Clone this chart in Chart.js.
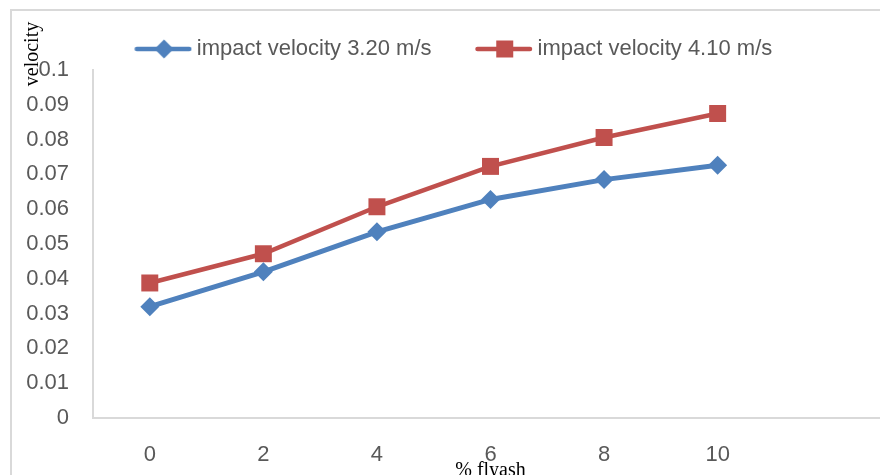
<!DOCTYPE html>
<html>
<head>
<meta charset="utf-8">
<script src="https://cdn.jsdelivr.net/npm/chart.js@4.4.1/dist/chart.umd.min.js"></script>
<style>
  html, body { margin:0; padding:0; width:880px; height:475px; overflow:hidden; background:#fff; }
  #frame { position:absolute; left:10px; top:9px; width:900px; height:480px; border-left:2px solid #d9d9d9; border-top:2px solid #d9d9d9; }
  #wrap { position:absolute; left:0; top:0; width:900px; height:475px; }
</style>
</head>
<body>
<div id="frame"></div>
<div id="wrap"><canvas id="c"></canvas></div>
<script>
const categories = ['0', '2', '4', '6', '8', '10', ''];
const seriesNames = ['impact velocity 3.20 m/s', 'impact velocity 4.10 m/s'];
const velocity320 = [0.032, 0.042, 0.0535, 0.0628, 0.0685, 0.0726];
const velocity410 = [0.0388, 0.0472, 0.0607, 0.0723, 0.0806, 0.0875];
const yTickLabels = ['0', '0.01', '0.02', '0.03', '0.04', '0.05', '0.06', '0.07', '0.08', '0.09', '0.1'];
const xTitle = '% flyash';
const yTitle = 'velocity';

const BLUE = '#4f81bd';
const RED = '#c0504d';
const TXT = '#595959';

function legendIcon(color, style) {
  const W = 78, H = 24;
  const cv = document.createElement('canvas');
  cv.width = W; cv.height = H;
  const g = cv.getContext('2d');
  g.strokeStyle = color; g.fillStyle = color; g.lineWidth = 4.5; g.lineCap = 'round';
  const x0 = 22.5, x1 = 77;
  const cy = H / 2;
  g.beginPath(); g.moveTo(x0, cy); g.lineTo(x1 - 2, cy); g.stroke();
  const cx = (x0 + x1) / 2;
  g.beginPath();
  if (style === 'diamond') {
    const r = 9.5;
    g.moveTo(cx - r, cy); g.lineTo(cx, cy - r); g.lineTo(cx + r, cy); g.lineTo(cx, cy + r);
  } else {
    const s = 8.5;
    g.rect(cx - s, cy - s, 2 * s, 2 * s);
  }
  g.closePath(); g.fill();
  return cv;
}
const icons = [legendIcon(BLUE, 'diamond'), legendIcon(RED, 'square')];

const titlesPlugin = {
  id: 'titles',
  afterDraw(chart) {
    const ctx = chart.ctx;
    const a = chart.chartArea;
    ctx.save();
    ctx.fillStyle = '#000';
    ctx.font = '20px "Liberation Serif", "Times New Roman", serif';
    ctx.textAlign = 'center';
    ctx.textBaseline = 'alphabetic';
    ctx.fillText(xTitle, (a.left + a.right) / 2, chart.height + 1);
    ctx.translate(a.left - 60, a.top - 16);
    ctx.rotate(-Math.PI / 2);
    ctx.textBaseline = 'middle';
    ctx.fillText(yTitle, 0, 0);
    ctx.restore();
  }
};

new Chart(document.getElementById('c'), {
  type: 'line',
  data: {
    labels: categories,
    datasets: [
      { label: seriesNames[0], data: velocity320, borderColor: BLUE, backgroundColor: BLUE,
        borderWidth: 5, pointStyle: 'rectRot', pointRadius: 9.5, pointHoverRadius: 9.5,
        pointBackgroundColor: BLUE, pointBorderColor: BLUE, pointBorderWidth: 0, tension: 0 },
      { label: seriesNames[1], data: velocity410, borderColor: RED, backgroundColor: RED,
        borderWidth: 4.5, pointStyle: 'rect', pointRadius: 12, pointHoverRadius: 12,
        pointBackgroundColor: RED, pointBorderColor: RED, pointBorderWidth: 0, tension: 0 }
    ]
  },
  options: {
    responsive: true,
    maintainAspectRatio: false,
    animation: false,
    devicePixelRatio: 1,
    layout: { padding: { left: 0, right: 7, top: 8, bottom: 6 } },
    plugins: {
      tooltip: { enabled: false },
      legend: {
        display: true,
        position: 'top',
        labels: {
          usePointStyle: true,
          pointStyleWidth: 65,
          boxHeight: 22,
          padding: 30,
          color: TXT,
          font: { family: '"Liberation Sans", Arial, sans-serif', size: 22 },
          generateLabels(chart) {
            return chart.data.datasets.map((ds, i) => ({
              text: ds.label, pointStyle: icons[i], fillStyle: ds.borderColor,
              strokeStyle: ds.borderColor, lineWidth: 0, hidden: false, datasetIndex: i, fontColor: TXT
            }));
          }
        }
      }
    },
    scales: {
      x: {
        offset: true,
        grid: { display: false, drawTicks: false },
        border: { display: true, color: '#d9d9d9', width: 2 },
        ticks: { color: TXT, padding: 24, font: { family: '"Liberation Sans", Arial, sans-serif', size: 22 } },
        afterFit(scale) { scale.height = 51; scale.paddingLeft = 0; scale.paddingRight = 0; }
      },
      y: {
        min: 0, max: 0.1,
        grid: { display: false, drawTicks: false },
        border: { display: true, color: '#d9d9d9', width: 2 },
        ticks: {
          stepSize: 0.01, color: TXT, padding: 24,
          font: { family: '"Liberation Sans", Arial, sans-serif', size: 22 },
          callback: (v, i) => yTickLabels[i]
        },
        afterFit(scale) { scale.width = 93; }
      }
    }
  },
  plugins: [titlesPlugin]
});
</script>
</body>
</html>
